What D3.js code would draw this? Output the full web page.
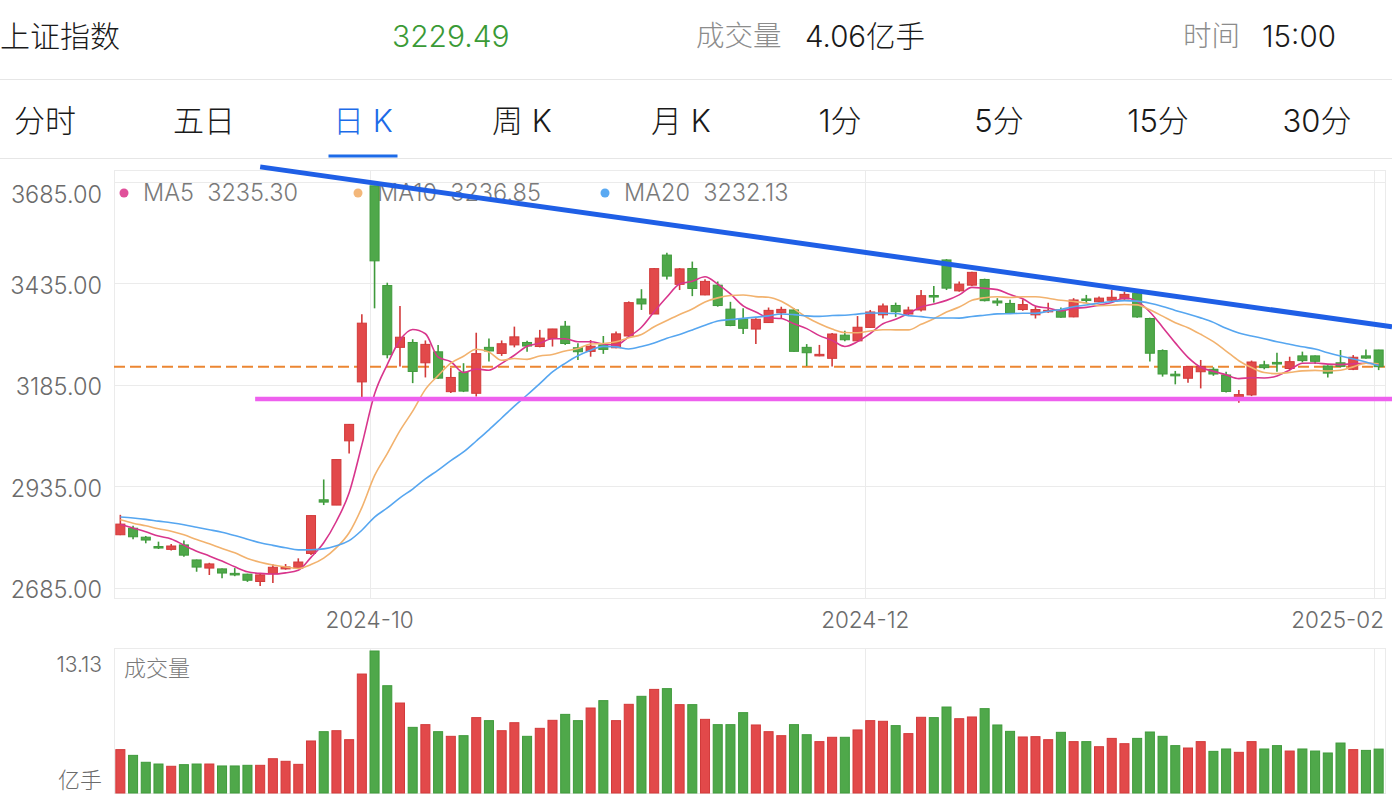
<!DOCTYPE html>
<html><head><meta charset="utf-8">
<script src="https://cdn.jsdelivr.net/npm/d3@7"></script>
<style>html,body{margin:0;padding:0;background:#fff;overflow:hidden}svg{display:block}</style>
</head><body><svg id="c" width="1392" height="810"></svg>
<script>
// ---------------- data ----------------
const dates = ["2024-08-30","2024-09-02","2024-09-03","2024-09-04","2024-09-05","2024-09-06","2024-09-09","2024-09-10","2024-09-11","2024-09-12","2024-09-13","2024-09-18","2024-09-19","2024-09-20","2024-09-23","2024-09-24","2024-09-25","2024-09-26","2024-09-27","2024-09-30",
"2024-10-08","2024-10-09","2024-10-10","2024-10-11","2024-10-14","2024-10-15","2024-10-16","2024-10-17","2024-10-18","2024-10-21","2024-10-22","2024-10-23","2024-10-24","2024-10-25","2024-10-28","2024-10-29","2024-10-30","2024-10-31",
"2024-11-01","2024-11-04","2024-11-05","2024-11-06","2024-11-07","2024-11-08","2024-11-11","2024-11-12","2024-11-13","2024-11-14","2024-11-15","2024-11-18","2024-11-19","2024-11-20","2024-11-21","2024-11-22","2024-11-25","2024-11-26","2024-11-27","2024-11-28","2024-11-29",
"2024-12-02","2024-12-03","2024-12-04","2024-12-05","2024-12-06","2024-12-09","2024-12-10","2024-12-11","2024-12-12","2024-12-13","2024-12-16","2024-12-17","2024-12-18","2024-12-19","2024-12-20","2024-12-23","2024-12-24","2024-12-25","2024-12-26","2024-12-27","2024-12-30","2024-12-31",
"2025-01-02","2025-01-03","2025-01-06","2025-01-07","2025-01-08","2025-01-09","2025-01-10","2025-01-13","2025-01-14","2025-01-15","2025-01-16","2025-01-17","2025-01-20","2025-01-21","2025-01-22","2025-01-23","2025-01-24","2025-01-27",
"2025-02-05"];

const opens = [2816,2832,2810,2787,2780,2791,2754,2734,2732,2721,2719,2701,2720,2732,2734,2770,2902,2889,3047,3192,
3674.4,3429,3277,3289,3239,3266,3168,3216,3164,3277,3262,3283,3289,3279,3299,3329,3276,3267,
3283,3276,3305,3396,3359,3504,3432,3471,3406,3430,3371,3347,3322,3338,3362,3369,3277,3256,3250,3307,3293,
3326,3357,3380,3359,3369,3404.5,3492,3416,3430,3444,3391,3385,3370,3357,3365,3369,3352,3396,3389,3393,3396,3410,
3348,3269,3211,3201,3217,3223,3209,3154,3160,3234,3240,3225,3256,3256,3231,3239,3223,3256,
3270.5];
const highs = [2865,2838,2813,2799,2793,2802,2755,2747,2733,2734,2720,2721,2743.5,2744,2758,2863.5,2952,3001,3088.6,3358.6,
3674.4,3436,3379,3297,3294,3283,3226,3238,3313,3299,3294,3328,3293,3320,3322.5,3342,3287,3295,
3305,3316,3390,3420,3472,3510,3472,3488,3444.5,3439,3389,3373,3348.5,3375,3377,3373,3285,3283,3312,3318,3354,
3369,3385,3387,3377,3418,3428,3494,3439,3463,3446,3398,3394,3395,3377,3387,3375,3398,3406,3402,3418,3414,3414,
3350,3272,3219,3230.5,3246,3228,3217,3172,3244.5,3244,3264,3254,3266.5,3257,3233,3270.5,3258,3272,
3271];
const lows = [2815,2805,2795,2781,2777,2762,2725,2717,2709,2714,2700,2689.7,2697,2730,2732,2766,2889,2889,3016,3152,
3373,3250,3230,3189,3203,3199,3165,3167,3156,3242,3256,3277,3266,3277,3279,3283,3246,3254,
3261,3275,3300,3369,3359,3444,3418,3403,3405,3377,3329,3310,3285,3337,3348,3266,3231,3255,3230,3292,3292,
3325,3348,3352,3354,3365,3387,3418,3414,3428,3390,3379,3360,3367,3348,3362,3350,3351,3385,3388,3391,3394,3350,
3242,3205,3186,3190,3176,3207,3166,3141,3157,3223,3217,3221,3240,3236,3203,3228,3221,3249,
3221];
const closes = [2842.21,2811.04,2802.98,2784.28,2788.31,2765.81,2736.49,2744.19,2721.80,2717.12,2704.09,2717.28,2736.02,2736.81,2748.92,2863.13,2896.31,3000.95,3087.53,3336.50,
3489.78,3258.86,3301.93,3217.74,3284.32,3201.29,3202.95,3169.38,3261.56,3268.11,3285.87,3302.80,3280.26,3299.70,3322.20,3286.41,3266.24,3279.82,
3272.01,3310.21,3386.99,3383.81,3470.66,3452.30,3470.07,3421.97,3439.28,3379.84,3330.73,3323.85,3346.01,3367.99,3370.40,3267.19,3263.76,3259.76,3309.78,3295.70,3326.46,
3363.98,3378.81,3364.65,3368.86,3404.08,3402.53,3422.66,3432.49,3461.50,3391.88,3386.33,3361.49,3382.21,3370.03,3368.07,3351.26,3393.53,3393.35,3398.08,3400.14,3407.33,3351.76,
3262.56,3211.43,3206.92,3229.64,3230.17,3211.39,3168.52,3160.76,3240.94,3227.12,3236.03,3241.82,3244.38,3242.62,3213.62,3230.16,3252.63,3250.60,
3229.49];
// closes of the 19 sessions before the first candle (only used for the moving averages)
const priorCloses = [2860.70,2867.28,2869.90,2869.83,2862.19,2858.20,2867.95,2850.65,2877.36,2879.43,2893.67,2866.66,2856.58,2848.77,2854.37,2855.52,2848.73,2837.43,2823.11];
// volume, 亿手
const volumes = [4.01,3.48,2.84,2.68,2.47,2.62,2.68,2.68,2.50,2.50,2.56,2.56,3.17,2.93,2.65,4.81,5.67,5.76,4.93,11.0,
13.13,9.92,8.32,6.07,6.32,5.67,5.24,5.30,6.97,6.69,5.76,6.50,5.24,5.98,6.72,7.27,6.69,7.86,
8.54,6.69,8.20,8.94,9.58,9.65,8.17,8.17,6.81,6.32,6.32,7.43,6.29,5.67,5.30,6.32,5.39,4.75,5.15,5.15,5.83,
6.69,6.63,6.23,5.49,7.00,6.97,7.95,6.87,7.03,7.80,6.29,5.70,5.18,5.21,4.93,5.61,4.75,4.75,4.28,5.05,4.56,5.05,
5.64,5.24,4.38,4.16,4.75,3.85,4.07,3.76,4.75,4.07,4.38,3.88,4.07,3.88,3.70,4.62,4.01,3.94,
4.06];

const yTicks = [2685, 2935, 3185, 3435, 3685];
const xTickDates = ["2024-10-08", "2024-12-02", "2025-02-05"];
const xTickLabels = ["2024-10", "2024-12", "2025-02"];
const maPeriods = [5, 10, 20];
const maNames = ["MA5", "MA10", "MA20"];
const tabs = ["分时", "五日", "日 K", "周 K", "月 K", "1分", "5分", "15分", "30分"];
const activeTab = "日 K";
const headerName = "上证指数";
const headerTime = "15:00";
// drawn lines: descending resistance line (two anchors) and horizontal support level
const trendDates = ["2024-09-18", "2025-02-05"];
const trendValues = [3721, 3332];
const supportStart = "2024-09-18";
const supportValue = 3150;

// ---------------- layout / style ----------------
const W = 1392, H = 810;
const PL = 114, PR = 1385, PT = 170, PB = 598;
const VT = 648, VB = 793;
const FONT = '"Inter","Noto Sans CJK SC",sans-serif';
const RED = "#e2494a", GREEN = "#4fa84a", RED_S = "#d23a3a", GREEN_S = "#3f9a3b";
const MA_COLORS = ["#d8358c", "#f2b26e", "#56a6f0"];
const DOT_COLORS = ["#e0509a", "#f3b77a", "#5aa9f2"];
const GRID = "#ebebeb", LABEL = "#6b6b6b";

const svg = d3.select("#c").attr("font-family", FONT).attr("font-weight", 300);
svg.append("rect").attr("width", W).attr("height", H).attr("fill", "#fff");

// ---------------- header ----------------
const last = closes.length - 1;
const head = svg.append("g");
head.append("text").attr("x", 0).attr("y", 36).attr("dy", "0.36em").attr("font-size", 30).attr("fill", "#1a1a1a").text(headerName);
head.append("text").attr("x", 392).attr("y", 36).attr("dy", "0.36em").attr("font-size", 30).attr("fill", closes[last] < opens[last] ? "#3a9a36" : RED).text(closes[last].toFixed(2));
head.append("text").attr("x", 696).attr("y", 36).attr("dy", "0.36em").attr("font-size", 28.5).attr("fill", "#8c8c8c").text("成交量");
head.append("text").attr("x", 805).attr("y", 36).attr("dy", "0.36em").attr("font-size", 29.5).attr("fill", "#1a1a1a").text(volumes[last].toFixed(2) + "亿手");
head.append("text").attr("x", 1183).attr("y", 36).attr("dy", "0.36em").attr("font-size", 28.5).attr("fill", "#8c8c8c").text("时间");
head.append("text").attr("x", 1262).attr("y", 36).attr("dy", "0.36em").attr("font-size", 29.5).attr("fill", "#1a1a1a").text(headerTime);
svg.append("line").attr("x1", 0).attr("x2", W).attr("y1", 79.5).attr("y2", 79.5).attr("stroke", "#e6e6e6");
svg.append("line").attr("x1", 0).attr("x2", W).attr("y1", 158.5).attr("y2", 158.5).attr("stroke", "#e6e6e6");

const tabX = d3.scalePoint().domain(tabs).range([45, 1317]);
svg.append("g").selectAll("text").data(tabs).join("text")
  .attr("x", d => tabX(d)).attr("y", 121).attr("dy", "0.36em").attr("text-anchor", "middle")
  .attr("xml:space", "preserve")
  .attr("font-size", 31).attr("fill", d => d === activeTab ? "#1d6be8" : "#1a1a1a").text(d => d);
svg.append("rect").attr("x", tabX(activeTab) - 34.5).attr("y", 154.5).attr("width", 69).attr("height", 3).attr("fill", "#1d6be8");

// ---------------- scales ----------------
const x = d3.scaleBand().domain(dates).range([PL, PR]).paddingInner(0.21).paddingOuter(0.105);
const bw = x.bandwidth();
const cx = d => x(d) + bw / 2;
const y = d3.scaleLinear().domain([yTicks[0], yTicks[yTicks.length - 1]]).range([588, 181.5]);
const vmax = d3.max(volumes);
const yv = d3.scaleLinear().domain([0, vmax]).range([VB, 651]);

// ---------------- frames & grid ----------------
const grid = svg.append("g").attr("fill", "none").attr("stroke", GRID).attr("stroke-width", 1);
grid.append("rect").attr("x", PL + 0.5).attr("y", PT + 0.5).attr("width", PR - PL).attr("height", PB - PT);
grid.append("rect").attr("x", PL + 0.5).attr("y", VT + 0.5).attr("width", PR - PL).attr("height", VB - VT);
grid.selectAll(".h").data(yTicks).join("line").attr("class", "h")
  .attr("x1", PL).attr("x2", PR).attr("y1", d => Math.round(y(d)) + 0.5).attr("y2", d => Math.round(y(d)) + 0.5);
grid.selectAll(".v").data(xTickDates).join("line").attr("class", "v")
  .attr("x1", d => Math.round(x(d)) + 0.5).attr("x2", d => Math.round(x(d)) + 0.5).attr("y1", PT).attr("y2", PB);
grid.selectAll(".vv").data(xTickDates).join("line").attr("class", "vv")
  .attr("x1", d => Math.round(x(d)) + 0.5).attr("x2", d => Math.round(x(d)) + 0.5).attr("y1", VT).attr("y2", VB);

// y labels
svg.append("g").selectAll("text").data(yTicks).join("text")
  .attr("x", 102).attr("text-anchor", "end").attr("font-size", 23.5).attr("fill", LABEL)
  .attr("y", (d, i) => y(d) + (i === yTicks.length - 1 ? 13.5 : 2)).attr("dy", "0.36em")
  .text(d => d.toFixed(2));

// x labels
const xl = svg.append("g").selectAll("text").data(xTickDates).join("text")
  .attr("x", d => x(d)).attr("y", 620).attr("dy", "0.36em").attr("text-anchor", "middle")
  .attr("font-size", 22.5).attr("fill", LABEL).text((d, i) => xTickLabels[i]);
xl.each(function () {
  const b = this.getBBox();
  if (b.x + b.width > PR - 1) d3.select(this).attr("text-anchor", "end").attr("x", PR - 1);
});

// ---------------- moving averages ----------------
const allCloses = priorCloses.concat(closes);
const off = priorCloses.length;
const maSeries = maPeriods.map(n => dates.map((d, i) => {
  const k = i + off;
  return { d, v: d3.mean(allCloses.slice(k - n + 1, k + 1)) };
}));

// legend
const leg = svg.append("g");
const legX = [124, 358, 605];
maNames.forEach((nm, j) => {
  leg.append("circle").attr("cx", legX[j]).attr("cy", 193).attr("r", 4.5).attr("fill", DOT_COLORS[j]);
  leg.append("text").attr("x", legX[j] + 19).attr("y", 193).attr("dy", "0.36em").attr("font-size", 23.5).attr("fill", "#7a7a7a")
    .attr("xml:space", "preserve").text(nm + "  " + maSeries[j][last].v.toFixed(2));
});

// ---------------- last price dashed line ----------------
svg.append("line").attr("x1", PL).attr("x2", PR).attr("y1", y(closes[last])).attr("y2", y(closes[last]))
  .attr("stroke", "#ec8632").attr("stroke-width", 2).attr("stroke-dasharray", "11 5");

// ---------------- candles ----------------
const candles = dates.map((d, i) => ({ d, o: opens[i], h: highs[i], l: lows[i], c: closes[i], v: volumes[i], up: closes[i] >= opens[i] }));
const cg = svg.append("g");
cg.selectAll("line").data(candles).join("line")
  .attr("x1", d => cx(d.d)).attr("x2", d => cx(d.d)).attr("y1", d => y(d.h)).attr("y2", d => y(d.l))
  .attr("stroke", d => d.up ? RED_S : GREEN_S).attr("stroke-width", 1.6);
cg.selectAll("rect").data(candles).join("rect")
  .attr("x", d => x(d.d) + 0.5).attr("width", bw - 1)
  .attr("y", d => y(Math.max(d.o, d.c)))
  .attr("height", d => Math.max(1.5, Math.abs(y(d.o) - y(d.c))))
  .attr("fill", d => d.up ? RED : GREEN).attr("stroke", d => d.up ? RED_S : GREEN_S).attr("stroke-width", 1);

// MA lines
const maLine = d3.line().x(p => cx(p.d)).y(p => y(p.v)).curve(d3.curveMonotoneX);
maSeries.forEach((s, j) => {
  svg.append("path").attr("d", maLine(s)).attr("fill", "none").attr("stroke", MA_COLORS[j]).attr("stroke-width", 1.6);
});

// ---------------- drawn trend lines ----------------
const tx0 = cx(trendDates[0]), ty0 = y(trendValues[0]);
const tx1 = cx(trendDates[1]), ty1 = y(trendValues[1]);
const slope = (ty1 - ty0) / (tx1 - tx0);
svg.append("line").attr("x1", tx0).attr("y1", ty0).attr("x2", W).attr("y2", ty0 + slope * (W - tx0))
  .attr("stroke", "#1f5fe6").attr("stroke-width", 5);
svg.append("line").attr("x1", x(supportStart)).attr("x2", W).attr("y1", y(supportValue)).attr("y2", y(supportValue))
  .attr("stroke", "#ee60ee").attr("stroke-width", 4.5);

// ---------------- volume ----------------
const vg = svg.append("g");
vg.selectAll("rect").data(candles).join("rect")
  .attr("x", d => x(d.d) + 0.5).attr("width", bw - 1)
  .attr("y", d => yv(d.v)).attr("height", d => VB - yv(d.v))
  .attr("fill", d => d.up ? RED : GREEN).attr("stroke", d => d.up ? RED_S : GREEN_S).attr("stroke-width", 1);
svg.append("text").attr("x", 124).attr("y", 668).attr("dy", "0.36em").attr("font-size", 22).attr("fill", "#7a7a7a").text("成交量");
svg.append("text").attr("x", 102).attr("y", 664).attr("dy", "0.36em").attr("text-anchor", "end").attr("font-size", 21).attr("fill", LABEL).text(vmax.toFixed(2));
svg.append("text").attr("x", 102).attr("y", 780).attr("dy", "0.36em").attr("text-anchor", "end").attr("font-size", 22).attr("fill", LABEL).text("亿手");
</script></body></html>
